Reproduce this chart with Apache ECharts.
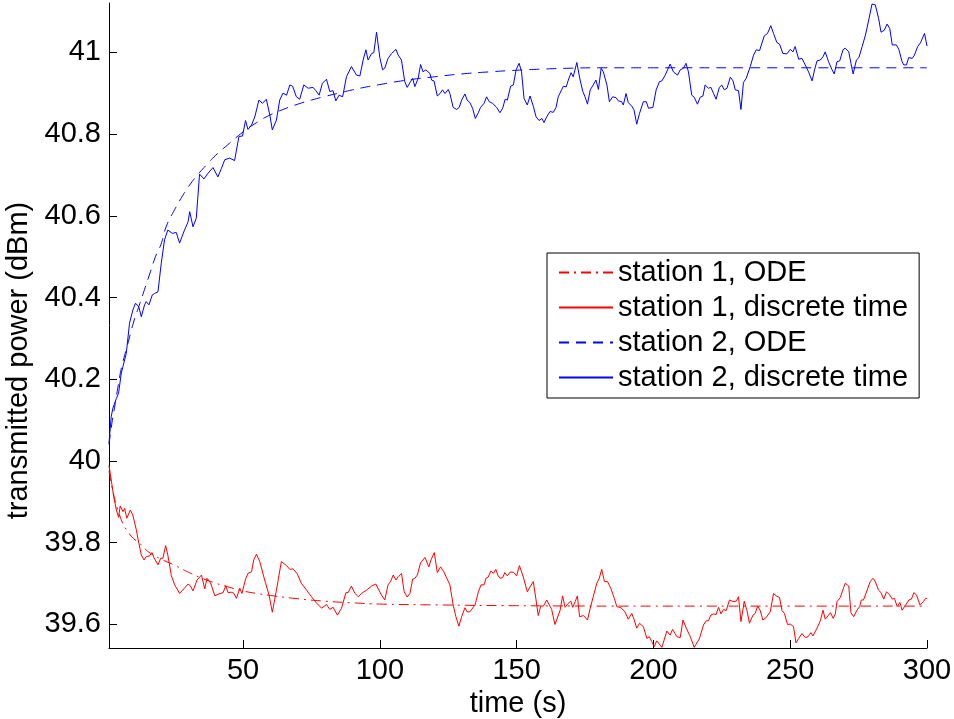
<!DOCTYPE html>
<html>
<head>
<meta charset="utf-8">
<script src="https://cdn.jsdelivr.net/npm/echarts@6/dist/echarts.min.js"></script>
<style>html,body{margin:0;padding:0;background:#fff}#c{width:954px;height:719px}</style>
</head>
<body>
<div id="c"></div>
<script>
// ---- data ----
const seriesNames = ['station 1, ODE', 'station 1, discrete time', 'station 2, ODE', 'station 2, discrete time'];
const xTicks = [50, 100, 150, 200, 250, 300];
const yTicks = [39.6, 39.8, 40, 40.2, 40.4, 40.6, 40.8, 41];

const s1OdeT = [1, 2, 3, 4, 5, 6, 8, 10, 12, 14, 16, 20, 25, 30, 35, 40, 45, 50, 55, 60, 70, 80, 90, 100, 120, 150, 200, 250, 300];
const s1OdeV = [39.975, 39.94, 39.91, 39.885, 39.865, 39.848, 39.826, 39.81, 39.80, 39.786, 39.775, 39.76, 39.745, 39.728, 39.713, 39.701, 39.691, 39.682, 39.676, 39.671, 39.663, 39.657, 39.653, 39.650, 39.648, 39.646, 39.645, 39.645, 39.645];

const s2OdeT = [1, 2, 3, 4, 5, 6, 8, 10, 12, 14, 16, 18, 20, 22, 25, 28, 31, 34, 37, 40, 45, 50, 55, 60, 65, 70, 75, 80, 85, 90, 95, 100, 110, 120, 130, 140, 150, 160, 170, 180, 200, 250, 300];
const s2OdeV = [40.04, 40.09, 40.13, 40.17, 40.21, 40.24, 40.29, 40.34, 40.38, 40.42, 40.46, 40.50, 40.53, 40.575, 40.615, 40.65, 40.68, 40.705, 40.727, 40.748, 40.777, 40.805, 40.828, 40.847, 40.861, 40.873, 40.883, 40.892, 40.90, 40.908, 40.915, 40.921, 40.932, 40.940, 40.947, 40.952, 40.956, 40.959, 40.961, 40.962, 40.962, 40.962, 40.962];

const s1DiscT = [1, 1.8, 2.7, 3.7, 4.5, 5.1, 6.1, 6.7, 7.5, 8.8, 9.7, 11, 11.9, 12.8, 13.8, 14.6, 15.8, 16.7, 17.4, 18.9, 19.9, 20.7, 21.7, 22.5, 23.8, 25, 26.8, 28.6, 29.9, 30.7, 31.7, 33.2, 34.8, 36, 36.8, 38.1, 38.8, 39.7, 41.2, 42.7, 43.7, 44.5, 45.7, 46.7, 47.6, 48.8, 49.6, 50.9, 51.8, 53.1, 53.9, 54.9, 56.1, 57.9, 59.5, 60.7, 62.2, 64, 65.9, 67.1, 68.3, 69.8, 71.3, 73.2, 75, 76.8, 78.7, 80.5, 81.7, 82.9, 84.5, 86, 87.6, 88.4, 89.6, 90.9, 92.1, 93.3, 95.1, 97, 98.5, 100.6, 101.8, 103, 103.9, 104.9, 105.9, 106.7, 107.9, 108.9, 110, 111, 112, 112.8, 113.7, 114.9, 116.5, 117.9, 118.7, 119.9, 121, 122.2, 123.4, 124.2, 125.6, 126.8, 127.8, 128.9, 129.9, 131.1, 131.9, 132.9, 134.8, 136, 137, 138.1, 138.8, 139.6, 140.6, 141.5, 142.4, 143.1, 143.9, 144.9, 145.7, 146.6, 147.6, 148.8, 150, 151, 152.4, 153.9, 154.9, 156.1, 157.1, 157.9, 158.8, 159.8, 161, 162.8, 164, 165.9, 166.8, 167.7, 168.9, 169.8, 170.5, 171.4, 172.2, 173, 174.4, 175.9, 176.9, 178, 179.3, 180.2, 181.1, 182.1, 183.2, 184.4, 185.7, 186.6, 188.1, 189.6, 190.8, 192.1, 193, 193.9, 194.9, 195.5, 196.3, 197.6, 198.5, 199.4, 200.3, 201.2, 201.8, 203.1, 204.9, 206.1, 207, 208.6, 209.8, 210.8, 212, 213.5, 214.9, 216.8, 218.3, 219.3, 220.1, 221, 222, 222.9, 223.8, 224.7, 225.6, 226.6, 227.8, 229.1, 230.3, 231.1, 232, 233.2, 234.2, 235.1, 236.4, 237.2, 238.1, 239, 240, 241.2, 242.7, 243.9, 244.9, 246.1, 247, 247.9, 249, 250, 251.2, 252.1, 253.1, 254.3, 255.5, 256.5, 257.6, 258.3, 259.8, 261, 262, 262.8, 263.8, 264.7, 265.7, 266.5, 267.1, 268.3, 270.1, 271.4, 272.2, 273.2, 274.4, 275.4, 276, 276.8, 278.1, 279.3, 280.3, 281.1, 282.3, 283.2, 284.2, 285.2, 286.4, 287.3, 288.1, 289.1, 290.1, 290.9, 292.2, 293.4, 294.3, 295.2, 296.2, 297.4, 298.7, 299.5, 300];
const s1DiscV = [39.989, 39.954, 39.913, 39.880, 39.862, 39.890, 39.876, 39.884, 39.860, 39.880, 39.868, 39.831, 39.799, 39.770, 39.758, 39.766, 39.768, 39.776, 39.764, 39.746, 39.762, 39.762, 39.793, 39.770, 39.719, 39.697, 39.676, 39.689, 39.699, 39.695, 39.682, 39.709, 39.721, 39.687, 39.713, 39.702, 39.701, 39.670, 39.675, 39.678, 39.695, 39.678, 39.679, 39.676, 39.664, 39.689, 39.676, 39.711, 39.725, 39.729, 39.758, 39.772, 39.754, 39.709, 39.672, 39.630, 39.684, 39.754, 39.744, 39.735, 39.736, 39.724, 39.701, 39.684, 39.668, 39.653, 39.640, 39.649, 39.637, 39.642, 39.623, 39.640, 39.678, 39.678, 39.694, 39.676, 39.668, 39.676, 39.684, 39.694, 39.699, 39.672, 39.660, 39.697, 39.705, 39.721, 39.709, 39.717, 39.725, 39.680, 39.667, 39.676, 39.711, 39.713, 39.721, 39.751, 39.764, 39.741, 39.758, 39.776, 39.727, 39.741, 39.729, 39.717, 39.697, 39.648, 39.619, 39.596, 39.619, 39.641, 39.631, 39.631, 39.648, 39.680, 39.697, 39.697, 39.713, 39.716, 39.731, 39.725, 39.735, 39.721, 39.713, 39.715, 39.727, 39.719, 39.728, 39.728, 39.719, 39.744, 39.717, 39.680, 39.692, 39.705, 39.660, 39.622, 39.645, 39.645, 39.660, 39.637, 39.600, 39.635, 39.670, 39.642, 39.652, 39.657, 39.642, 39.656, 39.670, 39.619, 39.622, 39.611, 39.640, 39.668, 39.701, 39.713, 39.735, 39.705, 39.705, 39.689, 39.664, 39.644, 39.641, 39.631, 39.613, 39.627, 39.611, 39.591, 39.603, 39.607, 39.595, 39.566, 39.570, 39.558, 39.546, 39.560, 39.560, 39.544, 39.584, 39.574, 39.588, 39.570, 39.568, 39.611, 39.591, 39.570, 39.544, 39.565, 39.599, 39.609, 39.609, 39.623, 39.626, 39.624, 39.642, 39.626, 39.637, 39.634, 39.660, 39.656, 39.657, 39.668, 39.607, 39.657, 39.634, 39.603, 39.623, 39.627, 39.645, 39.635, 39.611, 39.617, 39.631, 39.676, 39.670, 39.666, 39.634, 39.627, 39.600, 39.601, 39.595, 39.555, 39.566, 39.578, 39.568, 39.570, 39.580, 39.572, 39.591, 39.609, 39.635, 39.613, 39.621, 39.629, 39.615, 39.626, 39.656, 39.666, 39.701, 39.694, 39.629, 39.619, 39.635, 39.644, 39.660, 39.660, 39.684, 39.706, 39.713, 39.705, 39.684, 39.678, 39.662, 39.680, 39.672, 39.662, 39.664, 39.644, 39.654, 39.635, 39.648, 39.660, 39.662, 39.678, 39.672, 39.648, 39.656, 39.664, 39.664];

const s2DiscT = [1, 1.8, 2.4, 3.7, 4.5, 5.5, 6.1, 7.3, 8.5, 9.7, 10.7, 11.9, 12.8, 14, 14.6, 15.6, 16.8, 17.7, 18.9, 20.1, 21.3, 22.5, 24.1, 25.6, 26.8, 28.6, 29.9, 30.5, 31.7, 32.9, 34.1, 35.7, 37.2, 39, 40.8, 42.1, 43.3, 45.1, 46.9, 48.5, 49.8, 50.9, 51.8, 53.1, 54.3, 55.8, 57.1, 58.5, 59.8, 60.7, 62.2, 63.4, 64.6, 65.9, 67.1, 68.1, 69.5, 70.7, 72.2, 73.8, 75.6, 76.6, 77.8, 79, 80.5, 81.7, 82.9, 83.9, 85.1, 86.4, 87.8, 89.6, 91.5, 92.7, 93.9, 94.9, 95.7, 97, 97.8, 98.8, 100, 101, 101.8, 103, 104.3, 105.9, 106.7, 107.9, 109.1, 110, 111.2, 112, 112.8, 114, 114.9, 115.8, 116.8, 118.3, 118.9, 119.8, 121, 122, 122.9, 123.8, 125, 125.6, 126.8, 128.1, 129, 129.9, 131.1, 131.9, 132.9, 133.9, 134.9, 136, 136.8, 138.1, 139, 140, 141.2, 142.7, 143.9, 144.9, 145.8, 146.6, 147.8, 148.8, 149.8, 150.9, 151.8, 152.7, 153.9, 154.9, 156.1, 157.1, 158.2, 159.2, 160, 161, 162.2, 163.4, 164.4, 165.2, 166.5, 167.1, 168.1, 168.9, 169.9, 170.7, 172, 173.2, 174.2, 175, 175.9, 176.9, 178, 179, 179.9, 180.9, 181.7, 183, 183.9, 185.1, 186.3, 187.2, 188.4, 189, 190, 190.8, 192.1, 192.9, 193.9, 194.9, 196.3, 197.4, 198.2, 199.8, 201, 202.2, 203.1, 204.3, 206.1, 207.3, 208.8, 209.8, 211, 211.9, 212.8, 214, 214.9, 216.1, 217.1, 218.1, 218.9, 220.1, 221, 222, 222.9, 224.1, 225, 225.9, 226.9, 228.1, 229.1, 229.9, 231.1, 232, 232.9, 233.9, 235.4, 236.6, 237.6, 238.8, 240.5, 241.7, 242.9, 243.9, 245.1, 246.1, 247.3, 248.8, 250, 251, 251.8, 253.1, 254.3, 255.5, 256.7, 258, 258.9, 259.8, 261, 262, 262.8, 264, 265.3, 266.1, 267.1, 268.1, 269.3, 270.1, 271.4, 272.2, 273, 274.2, 275.1, 276.3, 277.5, 278.7, 279.9, 281.1, 282.3, 283.2, 284.4, 285.4, 286.4, 287.3, 288.8, 289.7, 290.9, 291.5, 292.5, 293.3, 294.6, 295.4, 296.6, 297.6, 299.1, 300];
const s2DiscV = [40.044, 40.108, 40.129, 40.153, 40.166, 40.215, 40.231, 40.263, 40.337, 40.369, 40.386, 40.377, 40.353, 40.382, 40.390, 40.382, 40.406, 40.410, 40.414, 40.484, 40.541, 40.565, 40.557, 40.559, 40.533, 40.565, 40.585, 40.610, 40.573, 40.594, 40.702, 40.690, 40.704, 40.718, 40.695, 40.716, 40.737, 40.741, 40.735, 40.794, 40.795, 40.833, 40.811, 40.822, 40.842, 40.883, 40.875, 40.885, 40.846, 40.810, 40.834, 40.883, 40.900, 40.895, 40.920, 40.917, 40.891, 40.885, 40.920, 40.912, 40.914, 40.906, 40.895, 40.924, 40.934, 40.904, 40.906, 40.881, 40.895, 40.891, 40.940, 40.965, 40.944, 40.942, 40.981, 41.006, 40.981, 40.997, 40.999, 41.049, 40.987, 40.957, 40.961, 40.985, 40.997, 41.007, 40.993, 40.981, 40.928, 40.914, 40.928, 40.936, 40.916, 40.936, 40.970, 40.952, 40.957, 40.948, 40.932, 40.930, 40.893, 40.899, 40.908, 40.899, 40.909, 40.899, 40.865, 40.860, 40.865, 40.883, 40.898, 40.883, 40.877, 40.863, 40.838, 40.852, 40.865, 40.875, 40.891, 40.879, 40.875, 40.865, 40.852, 40.863, 40.885, 40.883, 40.917, 40.920, 40.957, 40.973, 40.952, 40.887, 40.871, 40.893, 40.868, 40.842, 40.833, 40.838, 40.828, 40.842, 40.855, 40.853, 40.865, 40.891, 40.909, 40.917, 40.915, 40.932, 40.950, 40.940, 40.975, 40.932, 40.904, 40.891, 40.873, 40.908, 40.920, 40.932, 40.909, 40.961, 40.952, 40.920, 40.879, 40.891, 40.889, 40.881, 40.879, 40.871, 40.899, 40.877, 40.868, 40.859, 40.824, 40.850, 40.879, 40.879, 40.863, 40.865, 40.908, 40.928, 40.930, 40.944, 40.971, 40.952, 40.944, 40.957, 40.961, 40.973, 40.952, 40.895, 40.890, 40.873, 40.890, 40.893, 40.920, 40.912, 40.914, 40.899, 40.885, 40.914, 40.920, 40.908, 40.912, 40.939, 40.930, 40.908, 40.906, 40.860, 40.926, 40.936, 40.965, 40.993, 41.006, 41.004, 41.040, 41.046, 41.065, 41.046, 41.024, 41.020, 40.997, 40.996, 41.007, 41.001, 41.014, 40.983, 40.985, 40.969, 40.952, 40.930, 40.957, 40.979, 40.981, 40.989, 41.001, 40.977, 40.957, 40.947, 40.977, 40.979, 41.006, 41.010, 41.001, 40.973, 40.947, 40.981, 40.987, 41.014, 41.042, 41.079, 41.118, 41.116, 41.083, 41.049, 41.054, 41.069, 41.058, 41.018, 41.018, 41.007, 40.977, 40.969, 40.969, 40.987, 40.985, 40.993, 41.014, 41.023, 41.046, 41.015];

const zip = (t, v) => t.map((x, i) => [x, v[i]]);
const FONT = 'Liberation Sans, Arial, Helvetica, sans-serif';
const FS = 29;

const chart = echarts.init(document.getElementById('c'), null, {renderer: 'canvas'});
chart.setOption({
  animation: false,
  backgroundColor: '#fff',
  grid: {left: 109, right: 27, top: 3, bottom: 71, containLabel: false, outerBoundsMode: 'none'},
  xAxis: {
    type: 'value', min: 1, max: 300,
    name: 'time (s)', nameLocation: 'middle', nameGap: 26,
    nameTextStyle: {fontFamily: FONT, fontSize: FS, color: '#000'},
    axisLine: {show: true, lineStyle: {color: '#000', width: 1}},
    axisTick: {show: true, inside: true, length: 8, lineStyle: {color: '#000'}, customValues: xTicks},
    axisLabel: {fontFamily: FONT, fontSize: FS, color: '#000', margin: 8, customValues: xTicks},
    splitLine: {show: false}
  },
  yAxis: {
    type: 'value', min: 39.5425, max: 41.1205,
    name: 'transmitted power (dBm)', nameLocation: 'middle', nameGap: 66,
    nameTextStyle: {fontFamily: FONT, fontSize: FS, color: '#000', padding: [0, 70, 0, 0]},
    axisLine: {show: true, lineStyle: {color: '#000', width: 1}},
    axisTick: {show: true, inside: true, length: 8, lineStyle: {color: '#000'}, customValues: yTicks},
    axisLabel: {fontFamily: FONT, fontSize: FS, color: '#000', margin: 8, customValues: yTicks,
      formatter: v => String(parseFloat(Number(v).toFixed(1)))},
    splitLine: {show: false}
  },
  legend: {
    orient: 'vertical', left: 547, top: 253,
    data: seriesNames,
    itemWidth: 54, itemHeight: 14, itemGap: 0,
    itemStyle: {opacity: 0},
    padding: [2, 11, 3, 11],
    borderColor: '#000', borderWidth: 1, borderRadius: 0,
    backgroundColor: '#fff',
    textStyle: {fontFamily: FONT, fontSize: FS, color: '#000', lineHeight: 35}
  },
  series: [
    {name: seriesNames[0], type: 'line', data: zip(s1OdeT, s1OdeV), symbol: 'none', smooth: true,
      lineStyle: {color: '#ff0000', width: 1, type: [10, 5, 2, 5]}, itemStyle: {color: '#ff0000'}},
    {name: seriesNames[1], type: 'line', data: zip(s1DiscT, s1DiscV), symbol: 'none',
      lineStyle: {color: '#ff0000', width: 1}, itemStyle: {color: '#ff0000'}},
    {name: seriesNames[2], type: 'line', data: zip(s2OdeT, s2OdeV), symbol: 'none', smooth: true,
      lineStyle: {color: '#0000ff', width: 1, type: [10, 7]}, itemStyle: {color: '#0000ff'}},
    {name: seriesNames[3], type: 'line', data: zip(s2DiscT, s2DiscV), symbol: 'none',
      lineStyle: {color: '#0000ff', width: 1}, itemStyle: {color: '#0000ff'}}
  ]
});
</script>
</body>
</html>
